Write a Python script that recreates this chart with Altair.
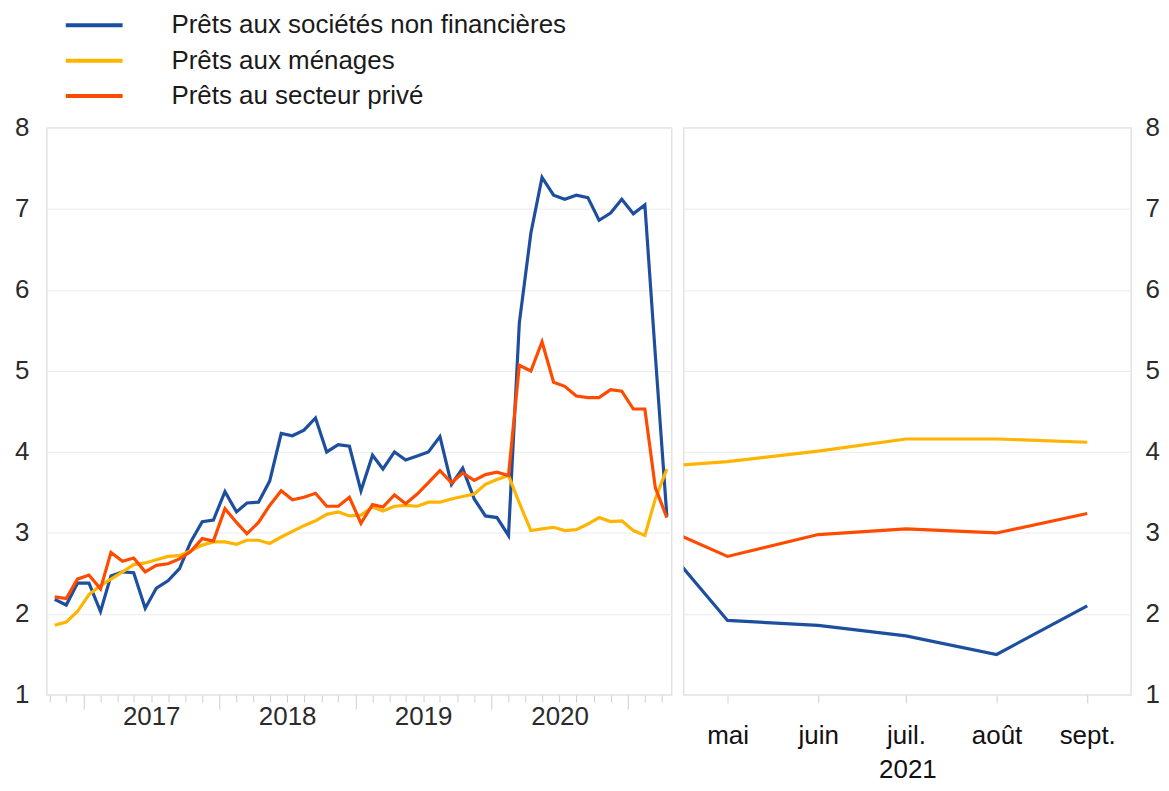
import json
import altair as alt
import pandas as pd

# ---------------- data ----------------
series_names = ["Prêts aux sociétés non financières", "Prêts aux ménages", "Prêts au secteur privé"]
series_colors = ["#1d4f9e", "#ffb400", "#ff4b00"]

left_first_month = "2016-10"
nfc_left = [2.18, 2.11, 2.38, 2.38, 2.03, 2.47, 2.52, 2.51, 2.07, 2.32, 2.41, 2.56, 2.89, 3.14,
            3.16, 3.51, 3.26, 3.37, 3.38, 3.64, 4.23, 4.20, 4.27, 4.42, 4.00, 4.09, 4.07, 3.52,
            3.96, 3.79, 4.00, 3.90, 3.95, 4.00, 4.19, 3.60, 3.80, 3.42, 3.21, 3.19, 2.97, 5.59,
            6.70, 7.39, 7.17, 7.12, 7.17, 7.14, 6.86, 6.95, 7.12, 6.94, 7.05, 5.20, 3.21]
hh_left = [1.86, 1.90, 2.03, 2.24, 2.35, 2.43, 2.52, 2.61, 2.63, 2.67, 2.71, 2.72, 2.78, 2.85,
           2.89, 2.89, 2.86, 2.91, 2.91, 2.87, 2.95, 3.02, 3.09, 3.15, 3.23, 3.26, 3.21, 3.22,
           3.32, 3.27, 3.33, 3.34, 3.33, 3.38, 3.38, 3.42, 3.45, 3.48, 3.60, 3.66, 3.71, 3.37,
           3.03, 3.05, 3.07, 3.03, 3.04, 3.11, 3.19, 3.14, 3.15, 3.03, 2.97, 3.42, 3.79]
ps_left = [2.21, 2.19, 2.43, 2.48, 2.31, 2.76, 2.65, 2.69, 2.52, 2.60, 2.62, 2.68, 2.77, 2.93,
           2.90, 3.30, 3.13, 2.99, 3.13, 3.34, 3.52, 3.41, 3.44, 3.49, 3.33, 3.33, 3.44, 3.12,
           3.35, 3.32, 3.47, 3.36, 3.48, 3.62, 3.77, 3.62, 3.74, 3.65, 3.72, 3.75, 3.71, 5.07,
           5.00, 5.36, 4.86, 4.81, 4.69, 4.67, 4.67, 4.77, 4.75, 4.53, 4.53, 3.56, 3.19]

right_months = ["2021-04", "2021-05", "2021-06", "2021-07", "2021-08", "2021-09"]
nfc_right = [3.20, 1.92, 1.86, 1.73, 1.50, 2.10]
hh_right = [3.80, 3.88, 4.01, 4.16, 4.16, 4.12]
ps_right = [3.19, 2.71, 2.98, 3.05, 3.00, 3.24]
right_month_labels = ["mai", "juin", "juil.", "août", "sept."]
right_year_title = "2021"


def long_df(months, cols):
    rows = []
    for name, vals in zip(series_names, cols):
        for m, v in zip(months, vals):
            rows.append({"date": f"{m}-15T00:00:00", "value": v, "series": name})
    return pd.DataFrame(rows)


left_months = [str(p) for p in pd.period_range(left_first_month, periods=len(nfc_left), freq="M")]
left_df = long_df(left_months, [nfc_left, hh_left, ps_left])
right_df = long_df(right_months, [nfc_right, hh_right, ps_right])

# ---------------- styling ----------------
FONT = "Liberation Sans"
FS = 26
GRID = "#ebebeb"
TICK = "#cfcfcf"

tick_md = [(1, 1), (2, 15), (4, 1), (5, 15), (7, 1), (8, 15), (10, 1), (11, 15)]
left_ticks = []
for yr in range(2016, 2022):
    for m, d in tick_md:
        if (yr, m, d) >= (2016, 10, 1) and (yr, m, d) <= (2021, 4, 15):
            left_ticks.append(alt.DateTime(year=yr, month=m, date=d))

right_ticks = [alt.DateTime(year=2021, month=m, date=15) for m in range(5, 10)]

color = alt.Color(
    "series:N",
    scale=alt.Scale(domain=series_names, range=series_colors),
    legend=alt.Legend(
        orient="none", legendX=34.5, legendY=-116, direction="vertical", title=None,
        symbolType="M-2.85,0H2.85", symbolSize=400, symbolStrokeWidth=4,
        labelFontSize=FS, labelFont=FONT, labelOffset=64.5, rowPadding=9.5,
        labelColor="#1a1a1a", labelLimit=0, padding=0,
    ),
)

y_scale = alt.Scale(domain=[1, 8], nice=False)

left = alt.Chart(left_df).mark_line(strokeWidth=3.2, clip=True).encode(
    x=alt.X(
        "date:T",
        scale=alt.Scale(domain=[alt.DateTime(year=2016, month=9, date=24),
                                alt.DateTime(year=2021, month=4, date=28)]),
        axis=alt.Axis(
            values=left_ticks, title=None, grid=False, domain=False,
            tickColor=TICK, tickWidth=1,
            tickSize={"condition": {"test": "month(datum.value) == 0 && date(datum.value) == 1", "value": 14}, "value": 7},
            labelExpr="(month(datum.value) == 6 && date(datum.value) == 1) ? timeFormat(datum.value, '%Y') : ''",
            labelFontSize=FS, labelFont=FONT, labelColor="#2b2b2b", labelPadding=2,
            labelOverlap=False, labelFlush=False,
        ),
    ),
    y=alt.Y(
        "value:Q", scale=y_scale,
        axis=alt.Axis(values=list(range(1, 9)), title=None, ticks=False, domain=False,
                      gridColor=GRID, gridWidth=1, labelFontSize=FS, labelFont=FONT,
                      labelColor="#2b2b2b", labelPadding=18),
    ),
    color=color,
).properties(width=627, height=569)

right = alt.Chart(right_df).mark_line(strokeWidth=3.2, clip=True).encode(
    x=alt.X(
        "date:T",
        scale=alt.Scale(domain=[alt.DateTime(year=2021, month=4, date=30),
                                alt.DateTime(year=2021, month=9, date=30)]),
        axis=alt.Axis(
            values=right_ticks, title=right_year_title, grid=False, domain=False,
            tickColor=TICK, tickWidth=1, tickSize=8,
            labelExpr=json.dumps(right_month_labels, ensure_ascii=False) + "[month(datum.value) - 4]",
            labelFontSize=FS, labelFont=FONT, labelColor="#111111", labelPadding=20,
            labelOverlap=False, labelFlush=False,
            titleFontSize=FS, titleFont=FONT, titleFontWeight="normal", titleColor="#111111",
            titlePadding=8,
        ),
    ),
    y=alt.Y(
        "value:Q", scale=y_scale,
        axis=alt.Axis(orient="right", values=list(range(1, 9)), title=None, ticks=False,
                      domain=False, gridColor=GRID, gridWidth=1, labelFontSize=FS,
                      labelFont=FONT, labelColor="#2b2b2b", labelPadding=14),
    ),
    color=color,
).properties(width=449, height=569)

chart = (
    alt.hconcat(left, right, spacing=10)
    .resolve_scale(x="independent", y="independent")
    .properties(padding={"left": 5, "top": 3, "right": 0, "bottom": 0})
    .configure(font=FONT)
    .configure_view(stroke="#e2e2e2", strokeWidth=1.5)
)

chart.save("out.html", embed_options={"renderer": "svg", "actions": False})
